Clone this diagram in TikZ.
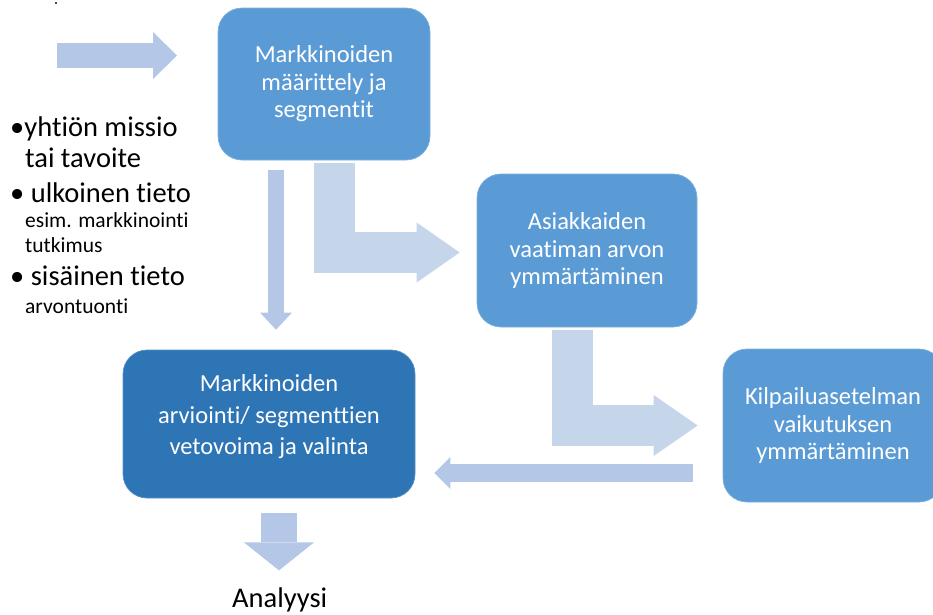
\documentclass[tikz,border=0pt]{standalone}
\usepackage{fontspec}
\setmainfont[Ligatures=NoCommon]{Carlito}
\usetikzlibrary{arrows.meta,calc}
\definecolor{boxblue}{HTML}{5B9BD5}
\definecolor{boxdark}{HTML}{2E75B6}
\definecolor{arrowblue}{HTML}{B4C7E7}
\definecolor{arrowlight}{HTML}{C5D5EA}
\begin{document}
\begin{tikzpicture}[x=1pt,y=-1pt,
  box/.style={rectangle, rounded corners=24pt, fill=boxblue, draw=boxblue!80!white, line width=0.7pt,
    text=white, align=center, inner sep=0pt, font=\fontsize{24.5}{27.5}\selectfont},
  darkbox/.style={box, fill=boxdark, draw=boxdark!80!white},
  boxtext/.style={text=white, align=center, inner sep=0pt, font=\fontsize{24.5}{31.5}\selectfont},
  bigtxt/.style={anchor=base west, inner sep=0pt, font=\fontsize{28.5}{34}\selectfont},
  smalltxt/.style={anchor=base west, inner sep=0pt, font=\fontsize{21.5}{26}\selectfont},
  flow/.style={line join=miter},
]
\useasboundingbox (0,0) rectangle (933,614);
\clip (0,0) rectangle (933,614);

% boxes
\node[box, minimum width=212pt, minimum height=152pt] (b1) at (324,84)
  {Markkinoiden\\määrittely ja\\segmentit};
\node[box, minimum width=220pt, minimum height=153pt] (b2) at (587,250.5)
  {Asiakkaiden\\vaatiman arvon\\ymmärtäminen};
\node[darkbox, minimum width=292pt, minimum height=148pt] (b3) at (269,424) {};
\node[boxtext] (b3t) at (269,417) {Markkinoiden\\arviointi/ segmenttien\\vetovoima ja valinta};
\node[box, minimum width=220pt, minimum height=153pt] (b4) at (833,425.5)
  {Kilpailuasetelman\\vaikutuksen\\ymmärtäminen};

% tiny mark
\fill[black!70] (54.5,1.5) rectangle (56.5,3.5);

% left list
\node[bigtxt] (l1) at (10,136) {•yhtiön missio};
\node[bigtxt] (l2) at (25,167) {tai tavoite};
\node[bigtxt] (l3) at (10,202) {• ulkoinen tieto};
\node[smalltxt] (l4) at (25,227) {esim. markkinointi};
\node[smalltxt] (l5) at (25,252) {tutkimus};
\node[bigtxt] (l6) at (10,285) {• sisäinen tieto};
\node[smalltxt] (l7) at (25,313) {arvontuonti};

% output label
\node[bigtxt] (out) at (232,607) {Analyysi};

% arrows
\coordinate (src) at (57,55.5);
\coordinate (srcend) at (177,55.5);
\draw[flow, arrowblue, line width=25pt, -{Triangle[width=47pt,length=24pt,line width=0pt]}]
  (src) -- (srcend);
\draw[flow, arrowblue, line width=16pt, -{Triangle[width=32pt,length=17pt,line width=0pt]}]
  ($(b1.south)+(-48,10)$) -- ($(b3.north)+(7,-20)$);
\draw[flow, arrowlight, line width=41pt, -{Triangle[width=60pt,length=43pt,line width=0pt]}]
  ($(b1.south)+(10,3)$) |- ($(b2.west)+(-17,2)$);
\draw[flow, arrowlight, line width=41pt, -{Triangle[width=61pt,length=44pt,line width=0pt]}]
  ($(b2.south)+(-15,3)$) |- ($(b4.west)+(-25,0)$);
\draw[flow, arrowblue, line width=18pt, -{Triangle[width=32pt,length=16pt,line width=0pt]}]
  ($(b4.west)+(-30,47.5)$) -- ($(b3.east)+(19,49)$);
\draw[flow, arrowblue, line width=36pt, -{Triangle[width=70pt,length=28pt,line width=0pt]}]
  ($(b3.south)+(10,15)$) -- ($(b3.south)+(10,72)$);
\end{tikzpicture}
\end{document}
